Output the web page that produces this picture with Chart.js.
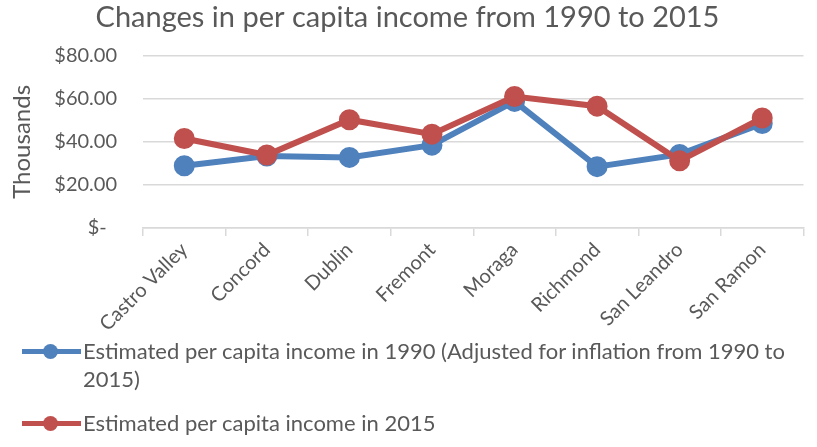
<!DOCTYPE html>
<html>
<head>
<meta charset="utf-8">
<script src="https://cdn.jsdelivr.net/npm/chart.js@4/dist/chart.umd.min.js"></script>
<style>
	body { margin: 0; background: #fff; font-family: Lato, sans-serif; }
	#wrap { position: relative; width: 817px; height: 447px; overflow: hidden; }
	#chartBox { position: absolute; left: 0; top: 0; width: 817px; height: 338px; }
	#legend { position: absolute; left: 0; top: 337px; width: 817px; color: #595959; font-size: 22px; }
	.item { position: relative; padding-left: 83px; padding-right: 14px; line-height: 28px; margin-bottom: 16px; }
	.mark { position: absolute; left: 22px; top: 12px; width: 59px; height: 5px; }
	.mark i { position: absolute; left: 21px; top: -5px; width: 15px; height: 15px; border-radius: 50%; }
</style>
</head>
<body>
<div id="wrap">
	<div id="chartBox"><canvas id="myChart"></canvas></div>
	<div id="legend"></div>
</div>
<script>
const cities = ['Castro Valley', 'Concord', 'Dublin', 'Fremont', 'Moraga', 'Richmond', 'San Leandro', 'San Ramon'];
// thousands of dollars
const income1990 = [28.9, 33.4, 32.8, 38.5, 58.8, 28.5, 34.2, 48.5];
const income2015 = [41.6, 33.9, 50.3, 43.6, 61.1, 56.6, 31.2, 51.1];
const seriesNames = ['Estimated per capita income in 1990 (Adjusted for inflation from 1990 to 2015)', 'Estimated per capita income in 2015'];
const seriesColors = ['#4f81bd', '#c0504d'];
const yTicks = [0, 20, 40, 60, 80];

const gray = '#595959';
const gridGray = '#d9d9d9';

function fmtMoney(v) {
	if (v == 0) return '$-  ';
	return '$' + v.toFixed(2);
}

const ctx = document.getElementById('myChart').getContext('2d');
const myChart = new Chart(ctx, {
	type: 'line',
	data: {
		labels: cities,
		datasets: [{
			label: seriesNames[0],
			data: income1990,
			borderColor: seriesColors[0],
			backgroundColor: seriesColors[0],
			borderWidth: 6,
			pointRadius: 7.5,
			pointHoverRadius: 7.5,
			tension: 0,
			order: 1
		}, {
			label: seriesNames[1],
			data: income2015,
			borderColor: seriesColors[1],
			backgroundColor: seriesColors[1],
			borderWidth: 6,
			pointRadius: 7.5,
			pointHoverRadius: 7.5,
			tension: 0,
			order: 0
		}]
	},
	options: {
		responsive: true,
		maintainAspectRatio: false,
		animation: false,
		layout: { padding: { top: 0, right: 10, left: 8, bottom: 0 } },
		plugins: {
			legend: { display: false },
			tooltip: { enabled: false },
			title: {
				display: true,
				text: 'Changes in per capita income from 1990 to 2015',
				color: gray,
				font: { family: 'Lato', size: 29, weight: 'normal' },
				padding: { top: 0, bottom: 21 }
			}
		},
		scales: {
			x: {
				offset: true,
				grid: {
					offset: true,
					drawOnChartArea: false,
					color: gridGray,
					tickLength: 8,
					lineWidth: 1.5
				},
				border: { color: gridGray, width: 1.5 },
				ticks: {
					color: gray,
					font: { family: 'Lato', size: 20 },
					maxRotation: 45,
					minRotation: 45,
					padding: 2
				},
				afterFit: (s) => { s.height = 110; }
			},
			y: {
				min: 0,
				max: 80,
				afterBuildTicks: (s) => { s.ticks = yTicks.map(v => ({ value: v })); },
				grid: { color: gridGray, lineWidth: 1.5, drawTicks: false },
				border: { display: false },
				ticks: {
					color: gray,
					font: { family: 'Lato', size: 20 },
					padding: 26,
					callback: (v) => fmtMoney(v)
				},
				title: {
					display: true,
					text: 'Thousands',
					color: gray,
					font: { family: 'Lato', size: 24 },
					padding: 0
				},
				afterFit: (s) => { s.width = 135; }
			}
		}
	}
});

// legend below the plot, text wraps like a normal paragraph
const legendBox = document.getElementById('legend');
seriesNames.forEach((name, i) => {
	let item = document.createElement('div');
	item.className = 'item';
	item.innerHTML = '<span class="mark" style="background:' + seriesColors[i] + '"><i style="background:' + seriesColors[i] + '"></i></span>';
	item.appendChild(document.createTextNode(name));
	legendBox.appendChild(item);
});
</script>
</body>
</html>
